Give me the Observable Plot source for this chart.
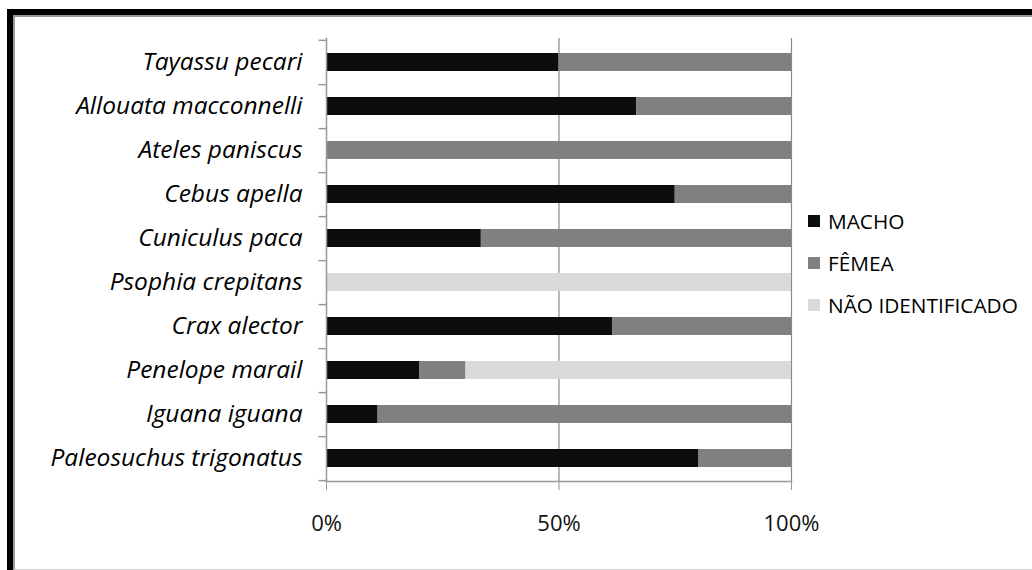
<!DOCTYPE html>
<html><head><meta charset="utf-8">
<script src="https://cdn.jsdelivr.net/npm/d3@7"></script>
<script src="https://cdn.jsdelivr.net/npm/@observablehq/plot@0.6"></script>
<style>
body{margin:0;background:#fff;width:1032px;height:570px;overflow:hidden;position:relative;font-family:"Open Sans",Lato,sans-serif}
#frame{position:absolute;left:7px;top:9px;right:0;bottom:0;border-left:6px solid #000;border-top:6px solid #000;z-index:2;pointer-events:none}
#frame-inner{position:absolute;left:0;top:0;right:0;bottom:0;border-left:2px solid #9a9a9a;border-top:2px solid #9a9a9a;border-bottom:1px solid #d0d0d0}
#chart{position:absolute;left:0;top:0}
#legend{position:absolute;left:808px;top:200px;z-index:1}
.lg{display:flex;align-items:center;height:42px;font-size:20.8px;color:#000;white-space:nowrap}
.sw{width:12px;height:12px;margin-right:8px;flex:none}
</style></head>
<body>
<div id="chart"></div>
<div id="legend"></div>
<div id="frame"><div id="frame-inner"></div></div>
<script>
const species = ["Tayassu pecari","Allouata macconnelli","Ateles paniscus","Cebus apella","Cuniculus paca","Psophia crepitans","Crax alector","Penelope marail","Iguana iguana","Paleosuchus trigonatus"];
const macho = [50, 66.7, 0, 75, 33.3, 0, 61.5, 20, 11.1, 80];
const femea = [50, 33.3, 100, 25, 66.7, 0, 38.5, 10, 88.9, 20];
const naoId = [0, 0, 0, 0, 0, 100, 0, 70, 0, 0];
const seriesNames = ["MACHO", "FÊMEA", "NÃO IDENTIFICADO"];
const seriesColors = ["#0d0d0d", "#808080", "#d9d9d9"];
const xTicks = [0, 50, 100];

const seriesValues = [macho, femea, naoId];
const rows = [];
species.forEach((s, i) => {
  seriesNames.forEach((n, j) => rows.push({species: s, series: n, value: seriesValues[j][i]}));
});

const W = 1032, H = 570, mT = 38, mB = 89, mL = 326, mR = 241;
const step = (H - mT - mB) / species.length;

const chart = Plot.plot({
  width: W, height: H,
  marginTop: mT, marginBottom: mB, marginLeft: mL, marginRight: mR,
  style: {background: "transparent", fontFamily: "'Open Sans', Lato, sans-serif"},
  x: {domain: [0, 100], label: null},
  y: {domain: species, paddingInner: 0.594, paddingOuter: 0.297, label: null},
  color: {domain: seriesNames, range: seriesColors},
  marks: [
    Plot.ruleX(xTicks.slice(1), {stroke: "#888", strokeWidth: 1.2}),
    Plot.barX(rows, Plot.stackX({x: "value", y: "species", fill: "series", order: seriesNames})),
    Plot.frame({anchor: "left", stroke: "#999", strokeWidth: 1.5}),
    Plot.frame({anchor: "bottom", stroke: "#999", strokeWidth: 1.5}),
    Plot.ruleY(species, {y: d => d, x1: -1.6, x2: 0, dy: step / 2, stroke: "#999", strokeWidth: 1.5}),
    Plot.ruleY(species.slice(0, 1), {y: d => d, x1: -1.6, x2: 0, dy: -step / 2, stroke: "#999", strokeWidth: 1.5}),
    Plot.axisY({tickSize: 0, tickPadding: 24, fontSize: 24.5, fontStyle: "italic", fill: "#000"}),
    Plot.axisX({ticks: xTicks, tickFormat: d => d + "%", tickSize: 9, tickPadding: 25, fontSize: 22, fill: "#111", stroke: "#999"})
  ]
});
document.getElementById("chart").appendChild(chart);

const legend = document.getElementById("legend");
seriesNames.forEach((n, j) => {
  const row = document.createElement("div");
  row.className = "lg";
  const sw = document.createElement("span");
  sw.className = "sw";
  sw.style.background = seriesColors[j];
  row.appendChild(sw);
  row.appendChild(document.createTextNode(n));
  legend.appendChild(row);
});
</script>
</body></html>
